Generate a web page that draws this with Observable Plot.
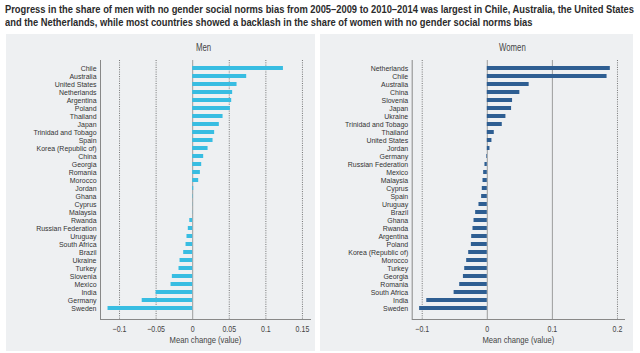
<!DOCTYPE html>
<html>
<head>
<meta charset="utf-8">
<script src="https://cdn.jsdelivr.net/npm/d3@7"></script>
<script src="https://cdn.jsdelivr.net/npm/@observablehq/plot@0.6"></script>
<style>
  body { margin: 0; background: #fff; font-family: "Liberation Sans", Arial, sans-serif; }
  #title { position: absolute; left: 5px; top: 3px; font-weight: bold; font-size: 11.5px; line-height: 13px; color: #2b2b2b; }
  #title div { white-space: nowrap; display: block; width: max-content; transform-origin: 0 0; }
  #men { position: absolute; left: 6px; top: 34px; }
  #women { position: absolute; left: 320px; top: 34px; }
</style>
</head>
<body>
<div id="title"><div id="t1">Progress in the share of men with no gender social norms bias from 2005–2009 to 2010–2014 was largest in Chile, Australia, the United States</div><div id="t2">and the Netherlands, while most countries showed a backlash in the share of women with no gender social norms bias</div></div>
<div id="men"></div>
<div id="women"></div>
<script>
const menCountries = ["Chile","Australia","United States","Netherlands","Argentina","Poland","Thailand","Japan","Trinidad and Tobago","Spain","Korea (Republic of)","China","Georgia","Romania","Morocco","Jordan","Ghana","Cyprus","Malaysia","Rwanda","Russian Federation","Uruguay","South Africa","Brazil","Ukraine","Turkey","Slovenia","Mexico","India","Germany","Sweden"];
const menValues = [0.124,0.0738,0.0606,0.0546,0.0533,0.0515,0.0415,0.0364,0.030,0.0278,0.021,0.015,0.0123,0.0105,0.0082,0.0014,0.0005,0.0002,-0.0003,-0.004,-0.006,-0.0078,-0.0091,-0.0123,-0.0173,-0.0187,-0.0278,-0.0296,-0.050,-0.069,-0.1157];

const womenCountries = ["Netherlands","Chile","Australia","China","Slovenia","Japan","Ukraine","Trinidad and Tobago","Thailand","United States","Jordan","Germany","Russian Federation","Mexico","Malaysia","Cyprus","Spain","Uruguay","Brazil","Ghana","Rwanda","Argentina","Poland","Korea (Republic of)","Morocco","Turkey","Georgia","Romania","South Africa","India","Sweden"];
const womenValues = [0.189,0.184,0.0643,0.050,0.0388,0.0373,0.0286,0.023,0.0107,0.0071,0.0041,-0.001,-0.0036,-0.0056,-0.0066,-0.0077,-0.0087,-0.0128,-0.0179,-0.0204,-0.022,-0.024,-0.0245,-0.0286,-0.0317,-0.0347,-0.0367,-0.0424,-0.051,-0.093,-0.104];

const menTicks = [-0.1, -0.05, 0, 0.05, 0.1, 0.15];
const womenTicks = [-0.1, 0, 0.1, 0.2];
const menSolid = [0];
const womenSolid = [0, 0.1];

const FONT = "'Liberation Sans', Arial, sans-serif";
const fmt = d => String(d).replace("-", "\u2212");

function panel({title, countries, values, ticks, solid, domain, color, width, marginLeft, marginRight, titleDx}) {
  const data = countries.map((c, i) => ({country: c, value: values[i]}));
  const H = 317, mt = 27.6, mb = 37.6;
  const ext = {insetTop: -1.6, insetBottom: -5.6};
  return Plot.plot({
    width, height: H,
    marginLeft, marginRight, marginTop: mt, marginBottom: mb,
    style: {background: "#eef0f2", fontFamily: FONT, fontSize: "8px", color: "#333", overflow: "visible"},
    x: {domain, ticks, label: null},
    y: {domain: countries, paddingInner: 0.55, paddingOuter: 0.275, label: null},
    marks: [
      Plot.ruleX(ticks.filter(t => !solid.includes(t)), {stroke: "#555", strokeDasharray: "1,1.3", strokeWidth: 0.8, ...ext}),
      Plot.ruleX(solid, {stroke: "#888", strokeWidth: 0.8, ...ext}),
      Plot.ruleX([domain[0]], {stroke: "#888", strokeWidth: 1, ...ext}),
      Plot.frame({anchor: "bottom", stroke: "#888", strokeWidth: 1, insetBottom: -5.6}),
      Plot.barX(data, {x: "value", y: "country", fill: color}),
      Plot.axisY({tickSize: 0, tickPadding: 4, label: null, fill: "#333"}),
      Plot.axisX({ticks, tickFormat: fmt, tickSize: 0, tickPadding: 11.5, label: null, fontSize: "9px", fill: "#444"}),
      Plot.text(["Mean change (value)"], {frameAnchor: "bottom", dy: 29, fontSize: 9.8, fill: "#444"}),
      Plot.text([title], {frameAnchor: "top", dy: -18.6, dx: titleDx, fontSize: 10, fill: "#444"})
    ]
  });
}

// simulate the condensed typeface of the original by compressing glyphs horizontally
function condense(svg) {
  svg.querySelectorAll("text").forEach(t => {
    const k = t.closest('[aria-label="y-axis tick label"]') ? 0.87 : 0.78;
    const w = t.getComputedTextLength();
    if (w > 0) {
      t.setAttribute("textLength", (w * k).toFixed(2));
      t.setAttribute("lengthAdjust", "spacingAndGlyphs");
    }
  });
}

const men = panel({
  title: "Men", countries: menCountries, values: menValues, ticks: menTicks, solid: menSolid,
  domain: [-0.126, 0.161], color: "#38bde2", width: 309, marginLeft: 94, marginRight: 5, titleDx: -2
});
const women = panel({
  title: "Women", countries: womenCountries, values: womenValues, ticks: womenTicks, solid: womenSolid,
  domain: [-0.1154, 0.2108], color: "#2e5e92", width: 313, marginLeft: 91.7, marginRight: 9, titleDx: -6
});
document.getElementById("men").append(men);
document.getElementById("women").append(women);
condense(men);
condense(women);

// title: same horizontal compression, fitted so the first line spans the width as in the original
const t1 = document.getElementById("t1"), t2 = document.getElementById("t2");
const k = 629 / t1.getBoundingClientRect().width;
t1.style.transform = `scaleX(${k})`;
t2.style.transform = `scaleX(${k})`;
</script>
</body>
</html>
